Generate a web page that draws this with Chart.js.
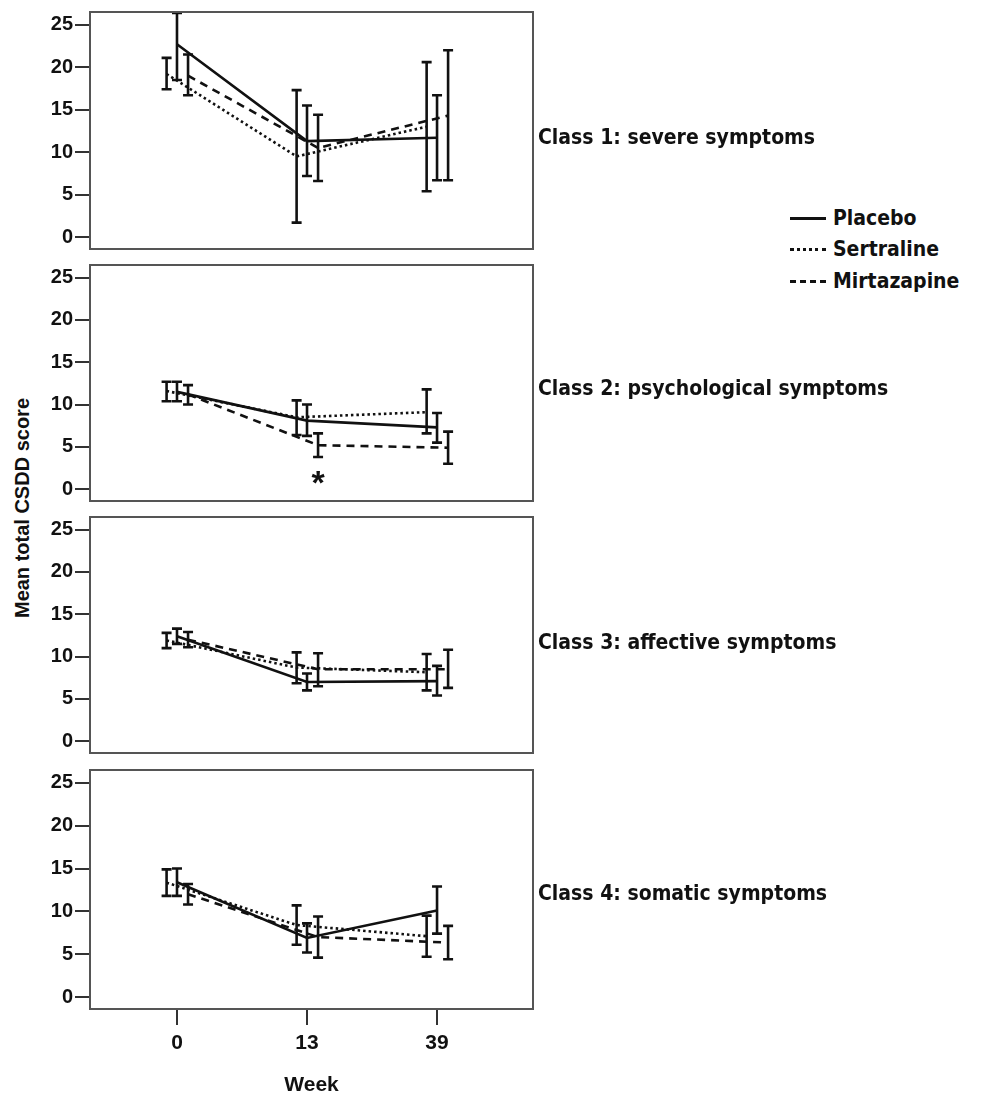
<!DOCTYPE html>
<html>
<head>
<meta charset="utf-8">
<script src="https://cdn.jsdelivr.net/npm/chart.js@4.4.0/dist/chart.umd.min.js"></script>
<style>
  body { margin: 0; background: #fff; }
  #wrap { position: relative; width: 1008px; height: 1098px; overflow: hidden; }
  .panel { position: absolute; left: 0; width: 545px; }
  .cls { position: absolute; left: 538px; font: bold 21px "DejaVu Sans Condensed", "DejaVu Sans", sans-serif; color: #111; white-space: nowrap; transform: translateY(-50%); }
  .leg { position: absolute; left: 790px; font: bold 21px "DejaVu Sans Condensed", "DejaVu Sans", sans-serif; color: #111; white-space: nowrap; transform: translateY(-50%); display: flex; align-items: center; }
  .leg span.sw { display: inline-block; width: 36px; height: 0; border-top-width: 3px; border-top-color: #111; margin-right: 7px; }
  #ytitle { position: absolute; left: 22px; top: 508px; transform: translate(-50%, -50%) rotate(-90deg); font: bold 20px "Liberation Sans", Arial, sans-serif; color: #111; white-space: nowrap; }
</style>
</head>
<body>
<div id="wrap">
  <div id="ytitle">Mean total CSDD score</div>
</div>
<script>
const weeks = ['0', '13', '39'];
const groups = ['Placebo', 'Sertraline', 'Mirtazapine'];
const classes = [
  'Class 1: severe symptoms',
  'Class 2: psychological symptoms',
  'Class 3: affective symptoms',
  'Class 4: somatic symptoms'
];
const yTicks = [0, 5, 10, 15, 20, 25];

// rows = classes 1..4, columns = weeks 0, 13, 39
const placeboMean = [[22.7, 11.3, 11.7], [11.5, 8.1, 7.3], [12.4, 7.0, 7.1], [13.4, 6.9, 10.1]];
const placeboLow  = [[18.5, 7.2, 6.7], [10.4, 6.3, 5.5], [11.5, 6.0, 5.4], [11.8, 5.2, 7.4]];
const placeboHigh = [[26.4, 15.5, 16.7], [12.7, 10.0, 9.0], [13.3, 8.0, 8.9], [15.0, 8.6, 12.9]];

const sertralineMean = [[19.2, 9.5, 13.0], [11.6, 8.5, 9.1], [11.9, 8.7, 8.15], [13.35, 8.4, 7.1]];
const sertralineLow  = [[17.4, 1.7, 5.4], [10.4, 6.4, 6.6], [11.0, 6.85, 6.0], [11.8, 6.1, 4.7]];
const sertralineHigh = [[21.1, 17.3, 20.6], [12.7, 10.5, 11.8], [12.8, 10.5, 10.3], [14.9, 10.7, 9.5]];

const mirtazapineMean = [[19.0, 10.5, 14.3], [11.2, 5.2, 4.9], [12.0, 8.5, 8.5], [12.0, 7.0, 6.35]];
const mirtazapineLow  = [[16.7, 6.6, 6.7], [10.0, 3.8, 3.0], [11.1, 6.5, 6.3], [10.8, 4.6, 4.4]];
const mirtazapineHigh = [[21.5, 14.4, 22.0], [12.3, 6.6, 6.8], [12.9, 10.4, 10.8], [13.2, 9.4, 8.3]];

// significance marker: class 2, week 13, mirtazapine
const starClass = 1, starWeek = 1, starGroup = 2, starValue = 1.3;

const dodge = [0, -0.08, 0.085];
const dashes = [[], [2.5, 3], [8, 6]];
const boxTop = [10, 263, 515, 768];
const boxBottom = [251, 503, 755, 1009];
const labelY = [137, 388, 642, 893];
const legendY = [218, 249, 281];

const means = [placeboMean, sertralineMean, mirtazapineMean];
const lows = [placeboLow, sertralineLow, mirtazapineLow];
const highs = [placeboHigh, sertralineHigh, mirtazapineHigh];

const boxPlugin = {
  id: 'box',
  afterDraw(chart) {
    const { ctx, chartArea: a } = chart;
    ctx.save();
    ctx.strokeStyle = '#555';
    ctx.lineWidth = 2;
    ctx.strokeRect(a.left, a.top, a.right - a.left, a.bottom - a.top);
    ctx.restore();
  }
};

const errorBars = {
  id: 'errorBars',
  afterDatasetsDraw(chart) {
    const { ctx, chartArea: a, scales: { x, y } } = chart;
    ctx.save();
    ctx.beginPath();
    ctx.rect(a.left, a.top - 1, a.right - a.left, a.bottom - a.top + 2);
    ctx.clip();
    ctx.strokeStyle = '#111';
    ctx.lineWidth = 2.6;
    chart.data.datasets.forEach(ds => {
      ds.data.forEach((p, i) => {
        const px = x.getPixelForValue(p.x);
        const lo = y.getPixelForValue(ds.low[i]);
        const hi = y.getPixelForValue(ds.high[i]);
        ctx.beginPath();
        ctx.moveTo(px, lo); ctx.lineTo(px, hi);
        ctx.moveTo(px - 5, lo); ctx.lineTo(px + 5, lo);
        ctx.moveTo(px - 5, hi); ctx.lineTo(px + 5, hi);
        ctx.stroke();
      });
    });
    ctx.restore();
    const st = chart.options.plugins.errorBars;
    if (st && st.star) {
      ctx.save();
      ctx.fillStyle = '#111';
      ctx.font = 'bold 34px "Liberation Sans", Arial, sans-serif';
      ctx.textAlign = 'center';
      ctx.textBaseline = 'middle';
      ctx.fillText('*', x.getPixelForValue(starWeek + dodge[starGroup]), y.getPixelForValue(starValue) + 6);
      ctx.restore();
    }
  }
};

const wrap = document.getElementById('wrap');

classes.forEach((name, c) => {
  const last = c === classes.length - 1;
  const top = boxTop[c] - 12;
  const height = last ? 1098 - top : boxBottom[c] - boxTop[c] + 24;
  const div = document.createElement('div');
  div.className = 'panel';
  div.style.top = top + 'px';
  div.style.height = height + 'px';
  const cv = document.createElement('canvas');
  cv.width = 545;
  cv.height = height;
  cv.style.width = '545px';
  cv.style.height = height + 'px';
  div.appendChild(cv);
  wrap.appendChild(div);

  const lab = document.createElement('div');
  lab.className = 'cls';
  lab.style.top = labelY[c] + 'px';
  lab.textContent = name;
  wrap.appendChild(lab);

  const datasets = groups.map((g, k) => ({
    label: g,
    data: weeks.map((w, i) => ({ x: i + dodge[k], y: means[k][c][i] })),
    low: lows[k][c],
    high: highs[k][c],
    borderColor: '#111',
    borderWidth: 2.6,
    borderDash: dashes[k],
    pointRadius: 0,
    fill: false,
    tension: 0
  }));

  new Chart(cv, {
    type: 'line',
    data: { datasets },
    plugins: [boxPlugin, errorBars],
    options: {
      responsive: false,
      animation: false,
      devicePixelRatio: 1,
      layout: { autoPadding: false, padding: { top: 12, right: 12, bottom: last ? 0 : 12, left: 0 } },
      plugins: {
        legend: { display: false },
        tooltip: { enabled: false },
        errorBars: { star: c === starClass }
      },
      scales: {
        x: {
          type: 'linear',
          min: -0.669,
          max: 2.738,
          display: last,
          afterBuildTicks: s => { s.ticks = weeks.map((w, i) => ({ value: i })); },
          afterFit: s => { s.height = last ? 89 : 0; },
          grid: { drawOnChartArea: false, drawTicks: true, tickLength: 16, color: '#333', lineWidth: 2 },
          border: { display: false },
          ticks: {
            padding: 6,
            color: '#111',
            font: { family: '"Liberation Sans", Arial, sans-serif', weight: 'bold', size: 21 },
            callback: v => weeks[v]
          },
          title: {
            display: true,
            text: 'Week',
            color: '#111',
            padding: { top: 14, bottom: 0 },
            font: { family: '"Liberation Sans", Arial, sans-serif', weight: 'bold', size: 21 }
          }
        },
        y: {
          min: -1.4,
          max: 26.5,
          afterBuildTicks: s => { s.ticks = yTicks.map(v => ({ value: v })); },
          afterFit: s => { s.width = 90; },
          grid: { drawOnChartArea: false, drawTicks: true, tickLength: 15, color: '#333', lineWidth: 2 },
          border: { display: false },
          ticks: {
            padding: 2,
            color: '#111',
            font: { family: '"Liberation Sans", Arial, sans-serif', weight: 'bold', size: 20 }
          }
        }
      }
    }
  });
});

groups.forEach((g, k) => {
  const row = document.createElement('div');
  row.className = 'leg';
  row.style.top = legendY[k] + 'px';
  const sw = document.createElement('span');
  sw.className = 'sw';
  sw.style.borderTopStyle = ['solid', 'dotted', 'dashed'][k];
  row.appendChild(sw);
  row.appendChild(document.createTextNode(g));
  wrap.appendChild(row);
});
</script>
</body>
</html>
